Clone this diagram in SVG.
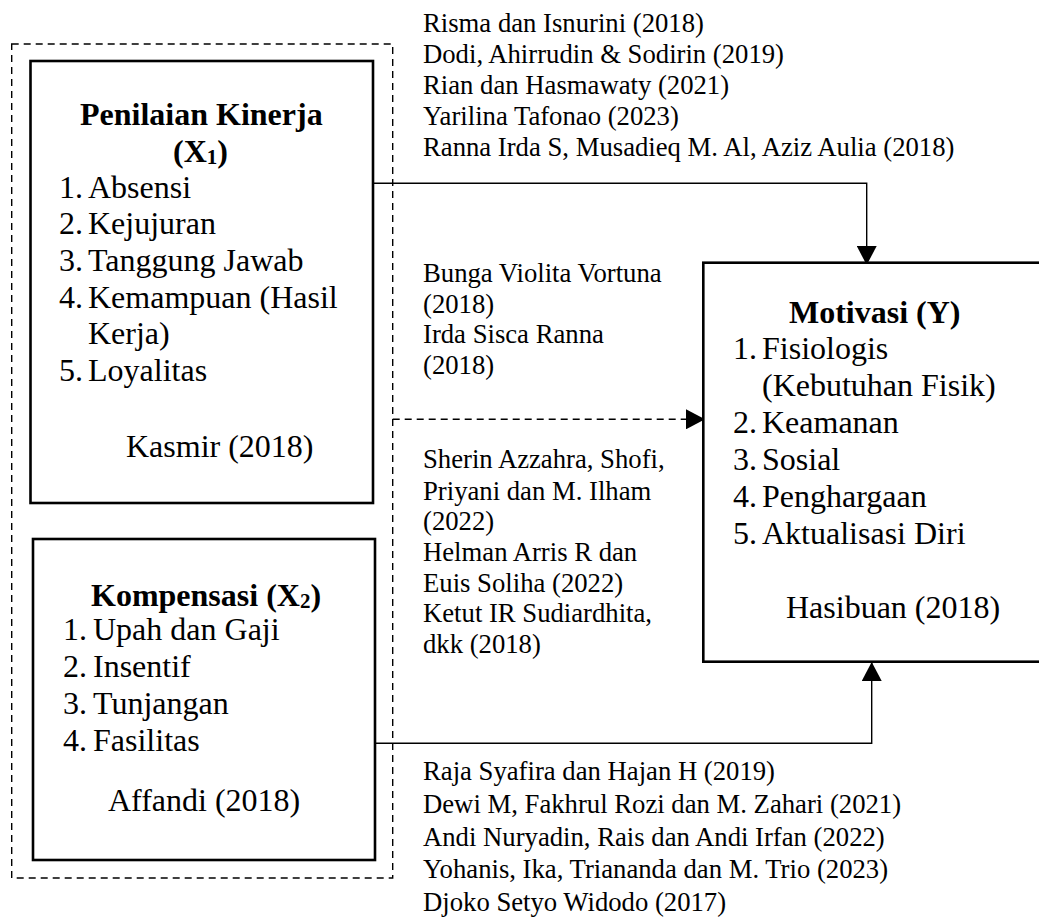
<svg xmlns="http://www.w3.org/2000/svg" width="1039" height="918" viewBox="0 0 1039 918">
<defs>
<style>
text{font-family:"Liberation Serif","Times New Roman",serif;fill:#000}
.b{font-size:32px}
.t{font-size:32px;font-weight:bold}
.c{font-size:26.7px}
.box{fill:#fff;stroke:#000;stroke-width:2.6}
.con{fill:none;stroke:#000;stroke-width:1.4}
.dash{stroke-dasharray:7 5}
.sub{font-size:21px}
</style>
<marker id="arr" markerUnits="userSpaceOnUse" markerWidth="20" markerHeight="20" refX="19" refY="10" orient="auto">
<path d="M0,0 L19,10 L0,20 Z" fill="#000"/>
</marker>
</defs>
<rect width="1039" height="918" fill="#fff"/>
<g id="group-x">
<rect x="11.7" y="44" width="381" height="834" fill="none" stroke="#000" stroke-width="1.4" stroke-dasharray="7 5"/>
</g>
<g id="connectors">
<path class="con" d="M373,183.3 H866.7 V265" marker-end="url(#arr)"/>
<path class="con dash" d="M392.7,419.3 H705" marker-end="url(#arr)"/>
<path class="con" d="M375,743.3 H871.7 V662" marker-end="url(#arr)"/>
</g>
<g id="x1">
<rect class="box" x="30.5" y="61" width="342.5" height="442"/>
<text class="t" x="80" y="124.5">Penilaian Kinerja</text>
<text class="t" x="173" y="161.5">(X<tspan class="sub" dy="2">1</tspan><tspan dy="-2">)</tspan></text>
<text class="b" x="59" y="197.7">1.</text><text class="b" x="88" y="197.7">Absensi</text>
<text class="b" x="59" y="234.4">2.</text><text class="b" x="88" y="234.4">Kejujuran</text>
<text class="b" x="59" y="271">3.</text><text class="b" x="88" y="271">Tanggung Jawab</text>
<text class="b" x="59" y="307.7">4.</text><text class="b" x="88" y="307.7">Kemampuan (Hasil</text>
<text class="b" x="88" y="344.3">Kerja)</text>
<text class="b" x="59" y="381">5.</text><text class="b" x="88" y="381">Loyalitas</text>
<text class="b" x="126" y="456.5">Kasmir (2018)</text>
</g>
<g id="x2">
<rect class="box" x="33" y="539" width="342" height="321"/>
<text class="t" x="91" y="606">Kompensasi (X<tspan class="sub" dy="2">2</tspan><tspan dy="-2">)</tspan></text>
<text class="b" x="63" y="640">1.</text><text class="b" x="93" y="640">Upah dan Gaji</text>
<text class="b" x="63" y="677">2.</text><text class="b" x="93" y="677">Insentif</text>
<text class="b" x="63" y="714">3.</text><text class="b" x="93" y="714">Tunjangan</text>
<text class="b" x="63" y="751">4.</text><text class="b" x="93" y="751">Fasilitas</text>
<text class="b" x="108" y="811">Affandi (2018)</text>
</g>
<g id="y">
<rect class="box" x="703.3" y="262.7" width="340" height="399"/>
<text class="t" x="789" y="322.7">Motivasi (Y)</text>
<text class="b" x="733" y="358.5">1.</text><text class="b" x="762" y="358.5">Fisiologis</text>
<text class="b" x="762" y="396">(Kebutuhan Fisik)</text>
<text class="b" x="733" y="433.3">2.</text><text class="b" x="762" y="433.3">Keamanan</text>
<text class="b" x="733" y="470">3.</text><text class="b" x="762" y="470">Sosial</text>
<text class="b" x="733" y="506.7">4.</text><text class="b" x="762" y="506.7">Penghargaan</text>
<text class="b" x="733" y="543.5">5.</text><text class="b" x="762" y="543.5">Aktualisasi Diri</text>
<text class="b" x="786" y="617.5">Hasibuan (2018)</text>
</g>
<g id="cite-top">
<text class="c" x="423" y="32">Risma dan Isnurini (2018)</text>
<text class="c" x="423" y="63.3">Dodi, Ahirrudin &amp; Sodirin (2019)</text>
<text class="c" x="423" y="94.3">Rian dan Hasmawaty (2021)</text>
<text class="c" x="423" y="125">Yarilina Tafonao (2023)</text>
<text class="c" x="423" y="156">Ranna Irda S, Musadieq M. Al, Aziz Aulia (2018)</text>
</g>
<g id="cite-mid">
<text class="c" x="423" y="282">Bunga Violita Vortuna</text>
<text class="c" x="423" y="313">(2018)</text>
<text class="c" x="423" y="343">Irda Sisca Ranna</text>
<text class="c" x="423" y="373.5">(2018)</text>
<text class="c" x="423" y="468">Sherin Azzahra, Shofi,</text>
<text class="c" x="423" y="499.5">Priyani dan M. Ilham</text>
<text class="c" x="423" y="530">(2022)</text>
<text class="c" x="423" y="560.5">Helman Arris R dan</text>
<text class="c" x="423" y="591.5">Euis Soliha (2022)</text>
<text class="c" x="423" y="622">Ketut IR Sudiardhita,</text>
<text class="c" x="423" y="652.5">dkk (2018)</text>
</g>
<g id="cite-bottom">
<text class="c" x="423" y="779.5">Raja Syafira dan Hajan H (2019)</text>
<text class="c" x="423" y="812.5">Dewi M, Fakhrul Rozi dan M. Zahari (2021)</text>
<text class="c" x="423" y="845.5">Andi Nuryadin, Rais dan Andi Irfan (2022)</text>
<text class="c" x="423" y="878">Yohanis, Ika, Triananda dan M. Trio (2023)</text>
<text class="c" x="423" y="911">Djoko Setyo Widodo (2017)</text>
</g>
</svg>
